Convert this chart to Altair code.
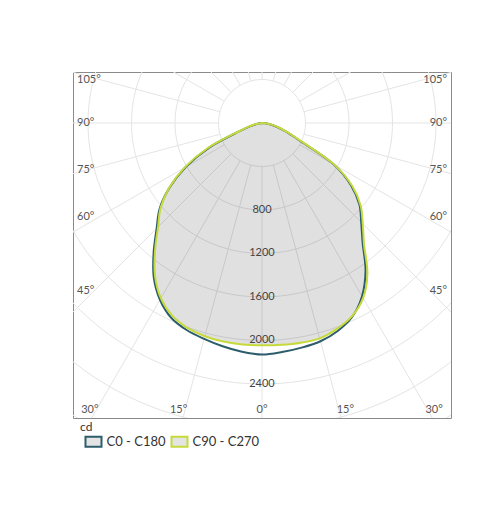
import math
import altair as alt
import pandas as pd

# ---- data (luminous intensity, cd) ----
angles = [0, 5, 10, 15, 20, 25, 30, 35, 40, 45, 50, 55, 60, 65, 70, 75, 80, 85, 90]
c0   = [2130, 2115, 2098, 2078, 2035, 1965, 1840, 1660, 1440, 1290, 1170, 1000, 760, 380, 240, 150, 80, 30, 0]
c180 = [2130, 2112, 2085, 2055, 2026, 1976, 1877, 1735, 1550, 1370, 1230, 1040, 810, 540, 220, 110, 50, 15, 0]
c90  = [2045, 2048, 2052, 2050, 2015, 1960, 1860, 1690, 1460, 1310, 1185, 1015, 770, 400, 250, 160, 85, 30, 0]
c270 = [2045, 2045, 2040, 2030, 2005, 1955, 1860, 1715, 1530, 1352, 1218, 1045, 825, 560, 235, 120, 55, 15, 0]
planes = ["C0 - C180", "C90 - C270"]
colors = ["#2d5d6c", "#c6da3c"]

ring_values = [400, 800, 1200, 1600, 2000, 2400, 2800, 3200]
ring_labels = [800, 1200, 1600, 2000, 2400]
spoke_step = 15
angle_labels = [-105, -90, -75, -60, -45, -30, -15, 0, 15, 30, 45, 60, 75, 90, 105]

XMAX = 1738
YMIN, YMAX = -2713, 469
PX = 0.10875  # px per cd
label_nudge_px = {105: 4, 90: 0, 75: 0, 60: -8, 45: -8}

# ---- tables ----
rows = []
for plane, left, right in [(planes[0], c180, c0), (planes[1], c270, c90)]:
    seq = 0
    for a, v in zip(reversed(angles), reversed(left)):
        rows.append({"plane": plane, "angle": -a, "cd": v, "seq": seq}); seq += 1
    for a, v in zip(angles[1:], right[1:]):
        rows.append({"plane": plane, "angle": a, "cd": v, "seq": seq}); seq += 1
curves = pd.DataFrame(rows)

ring_rows = []
for r in ring_values:
    for i, a in enumerate(range(0, 361, 2)):
        ring_rows.append({"ring": r, "angle": a, "cd": r, "seq": i})
rings = pd.DataFrame(ring_rows)

spoke_rows = []
for a in range(0, 360, spoke_step):
    spoke_rows.append({"spoke": a, "angle": a, "cd": 400, "seq": 0})
    spoke_rows.append({"spoke": a, "angle": a, "cd": 4500, "seq": 1})
spokes = pd.DataFrame(spoke_rows)

rl = pd.DataFrame({"cd": ring_labels, "label": [str(v) for v in ring_labels]})

side_rows, bottom_rows = [], []
for a in angle_labels:
    t = math.radians(abs(a))
    lab = f"{abs(a)}°"
    if abs(a) >= 45:
        xc = XMAX - 120
        y = -xc * math.cos(t) / math.sin(t) - label_nudge_px[abs(a)] / PX
        side_rows.append({"x": (XMAX - 37) * (1 if a > 0 else -1), "y": y, "label": lab,
                          "side": "r" if a > 0 else "l"})
    else:
        yb = YMIN + 75
        x = -yb * math.tan(t) + 60 if a != 0 else 0
        bottom_rows.append({"x": x * (1 if a >= 0 else -1), "y": yb, "label": lab})
side = pd.DataFrame(side_rows)
bottom = pd.DataFrame(bottom_rows)

xs = alt.Scale(domain=[-XMAX, XMAX], nice=False, zero=False)
ys = alt.Scale(domain=[YMIN, YMAX], nice=False, zero=False)

def polar(ch):
    return ch.transform_calculate(
        px="datum.cd * sin(datum.angle * PI / 180)",
        py="-datum.cd * cos(datum.angle * PI / 180)",
    )

X = alt.X("px:Q", scale=xs, axis=None)
Y = alt.Y("py:Q", scale=ys, axis=None)
GRID = "#e4e4e4"

ring_layer = polar(alt.Chart(rings)).mark_line(color=GRID, strokeWidth=1, clip=True).encode(
    x=X, y=Y, detail="ring:N", order="seq:Q")
spoke_layer = polar(alt.Chart(spokes)).mark_line(color=GRID, strokeWidth=1, clip=True).encode(
    x=X, y=Y, detail="spoke:N", order="seq:Q")

fill_layer = polar(alt.Chart(curves[curves.plane == planes[1]])).mark_line(
    fill="#000000", fillOpacity=0.12, strokeOpacity=0, interpolate="catmull-rom").encode(
    x=X, y=Y, order="seq:Q")

color = alt.Color("plane:N", scale=alt.Scale(domain=planes, range=colors),
                  legend=alt.Legend(title="cd", orient="none", legendX=7, legendY=350,
                                    direction="horizontal"))
line_layer = polar(alt.Chart(curves)).mark_line(strokeWidth=2, interpolate="catmull-rom").encode(
    x=X, y=Y, stroke=color, detail="plane:N", order="seq:Q")

rl_layer = alt.Chart(rl).transform_calculate(px="0", py="-datum.cd").mark_text(
    font="Lato", fontSize=11, color="#444", baseline="middle").encode(x=X, y=Y, text="label:N")

def lab_layer(df, align):
    return alt.Chart(df).mark_text(
        font="Lato", fontSize=11, color="#555", align=align, baseline="middle").encode(
        x=alt.X("x:Q", scale=xs, axis=None), y=alt.Y("y:Q", scale=ys, axis=None), text="label:N")

left_lab = lab_layer(side[side.side == "l"], "left")
right_lab = lab_layer(side[side.side == "r"], "right")
bottom_lab = lab_layer(bottom, "center")

chart = alt.layer(ring_layer, spoke_layer, fill_layer, line_layer, rl_layer,
                  left_lab, right_lab, bottom_lab).properties(
    width=378, height=346,
    padding={"left": 65, "top": 64, "right": 30, "bottom": 30},
).configure_view(stroke="#8a8a8a", strokeWidth=1).configure_legend(
    titleFont="Lato", titleFontSize=12, titleFontWeight="normal", titleColor="#333",
    labelFont="Lato", labelFontSize=13, labelColor="#333",
    symbolType="M-1.6,-1H1.6V1H-1.6Z", symbolSize=100, symbolStrokeWidth=2,
    symbolFillColor="#e4e4e4", symbolOffset=7, columnPadding=0, labelOffset=6.5, titlePadding=1,
)

chart.save("out.html", embed_options={"renderer": "svg", "actions": False})
